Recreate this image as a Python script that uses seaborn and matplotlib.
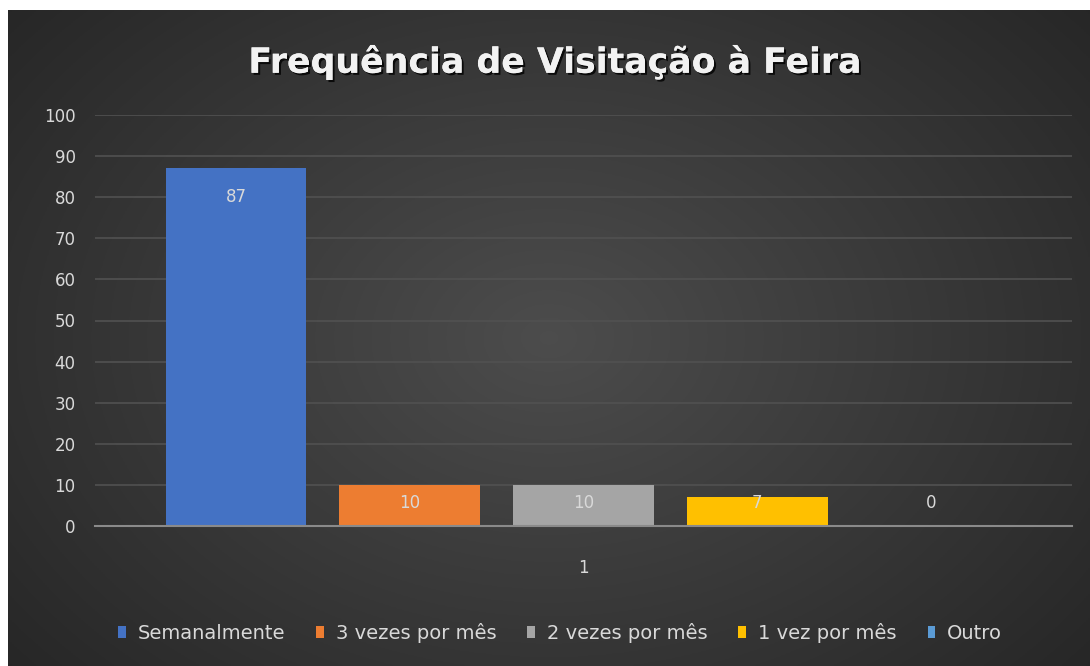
import matplotlib
matplotlib.use('Agg')
import numpy as np
import pandas as pd
import seaborn as sns
import matplotlib.pyplot as plt
import matplotlib.patheffects as pe

# Chart data
categories = ["1"] * 5
series = ["Semanalmente", "3 vezes por mês", "2 vezes por mês", "1 vez por mês", "Outro"]
values = [87, 10, 10, 7, 0]
colors = ["#4472C4", "#ED7D31", "#A5A5A5", "#FFC000", "#5B9BD5"]
title = "Frequência de Visitação à Feira"

df = pd.DataFrame({"cat": categories, "serie": series, "valor": values})

sns.set_style("white")
plt.rcParams['font.family'] = ['DejaVu Sans']

fig = plt.figure(figsize=(10.9, 6.66), dpi=100)
fig.patch.set_facecolor("white")

# ----- dark radial gradient background -----
bg = fig.add_axes([8 / 1090, 0, 1 - 8 / 1090, 1 - 10 / 666], zorder=0)
yy, xx = np.mgrid[0:1:300j, 0:1:500j]
r = np.sqrt(((xx - 0.5) / 0.75) ** 2 + ((yy - 0.5) / 0.9) ** 2)
shade = np.clip(0.30 - 0.17 * r, 0.14, 0.31)
bg.imshow(np.dstack([shade] * 3), aspect="auto", extent=[0, 1, 0, 1])
bg.axis("off")

# ----- main axes -----
ax = fig.add_axes([95 / 1090, 1 - 526 / 666, (1072 - 95) / 1090, (526 - 115) / 666], zorder=1)
ax.patch.set_alpha(0)

sns.barplot(data=df, x="cat", y="valor", hue="serie", hue_order=series,
            palette=dict(zip(series, colors)), width=0.889, gap=0.19,
            saturation=1, linewidth=0, ax=ax)

ax.set_ylim(0, 100)
ax.set_yticks(range(0, 101, 10))
ax.yaxis.grid(True, color="#515151", linewidth=1.2)
ax.set_axisbelow(True)
for s in ["top", "right", "left"]:
    ax.spines[s].set_visible(False)
ax.spines["bottom"].set_color("#8a8a8a")
ax.spines["bottom"].set_linewidth(1.5)
ax.set_xlabel("")
ax.set_ylabel("")
ax.tick_params(axis="y", length=0, pad=14, labelsize=12, labelcolor="#d9d9d9")
ax.tick_params(axis="x", length=0, pad=24, labelsize=12, labelcolor="#d9d9d9")

# data labels, inside end
for cont, v in zip(ax.containers, values):
    bar = cont[0]
    xc = bar.get_x() + bar.get_width() / 2
    ax.text(xc, max(v - 7, 5.5), str(v), ha="center", va="center",
            color="#d9d9d9", fontsize=12)

# legend at the bottom
handles, labels = ax.get_legend_handles_labels()
ax.get_legend().remove()
fig.legend(handles, labels, loc="center", bbox_to_anchor=(560 / 1090, 1 - 633 / 666),
           ncol=5, frameon=False, labelcolor="#d9d9d9",
           prop={"family": ["Liberation Sans Narrow", "DejaVu Sans"], "size": 14},
           handlelength=0.4, handleheight=0.6, handletextpad=0.6,
           columnspacing=1.6)

fig.text(555 / 1090, 1 - 62 / 666, title, ha="center", va="center",
         fontsize=25, fontweight="bold", color="#f2f2f2",
         path_effects=[pe.withSimplePatchShadow(offset=(1.5, -1.5), shadow_rgbFace="black", alpha=0.8),
                       pe.Normal()])

fig.savefig("out.png", dpi=100, facecolor=fig.get_facecolor())
